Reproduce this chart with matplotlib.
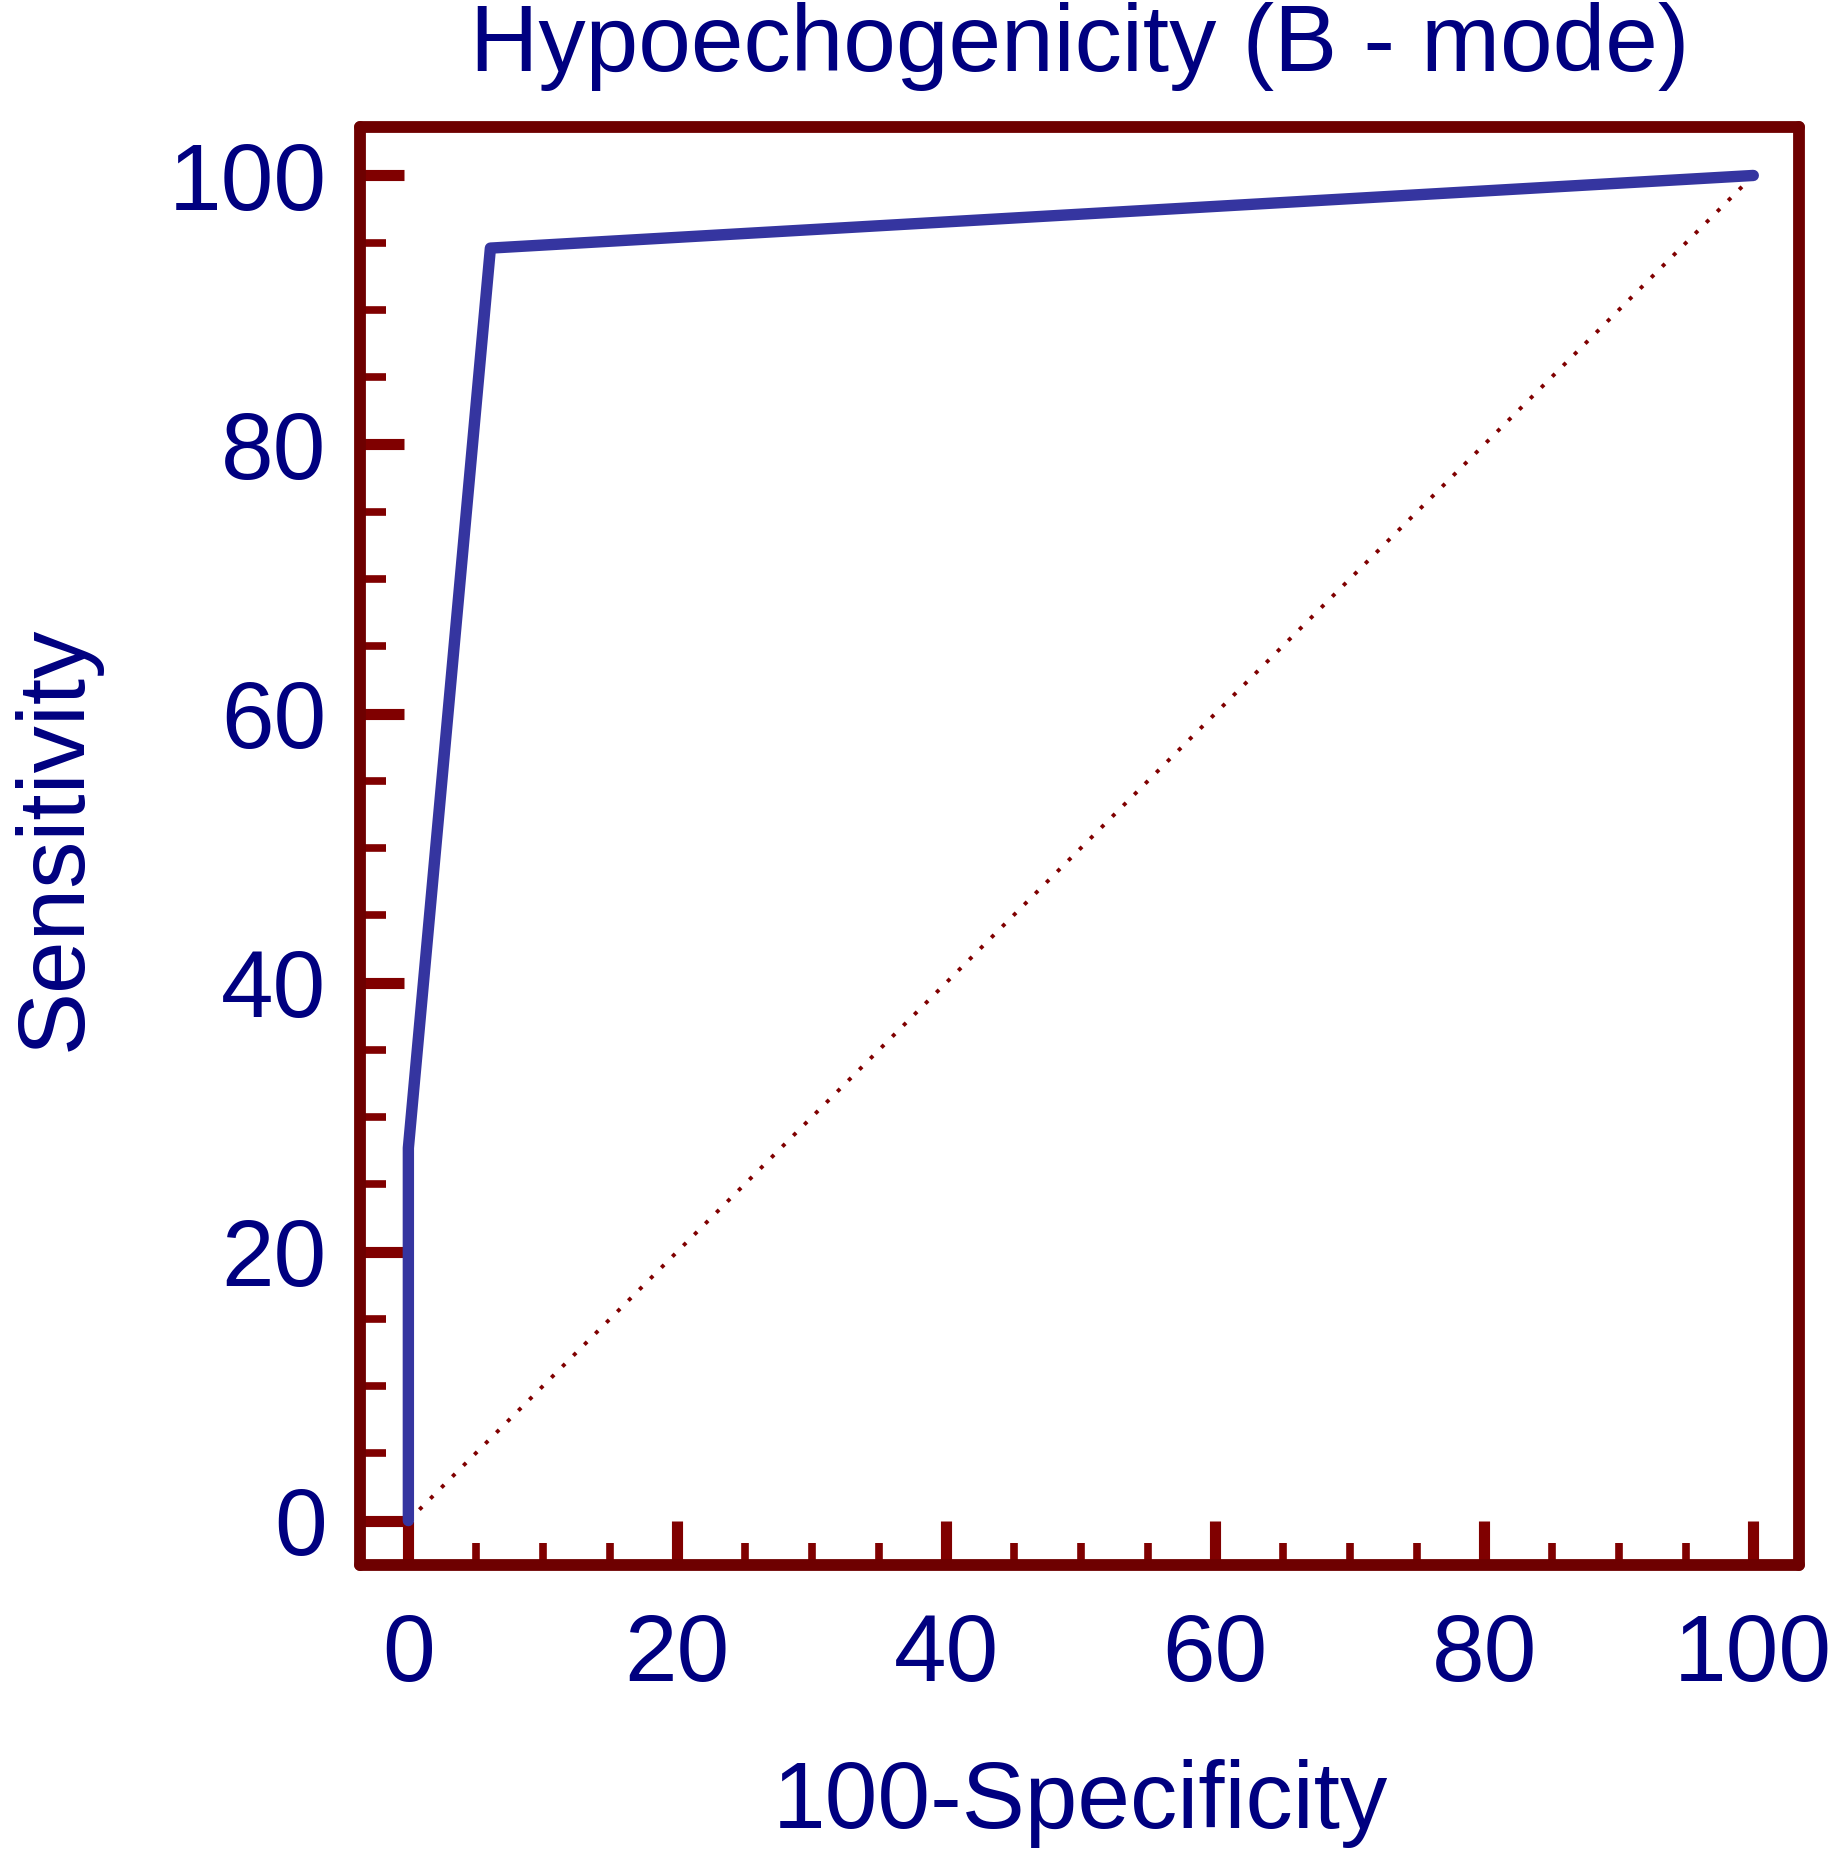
import numpy as np
import matplotlib
matplotlib.use("Agg")
from matplotlib import pyplot as plt
from matplotlib.ticker import MultipleLocator

# ROC curve points
fpr = [0, 0, 6.1, 100]
tpr = [0, 27.7, 94.6, 100]
ref_x = [0, 100]
ref_y = [0, 100]
ticks = [0, 20, 40, 60, 80, 100]

navy = '#000080'
maroon = '#6e0000'
blue = '#3535a0'

plt.rcParams['font.family'] = ['Liberation Sans', 'DejaVu Sans']

fig = plt.figure(figsize=(18.44, 18.60), dpi=100)
ax = fig.add_axes([0.1952, 0.1586, 0.7804, 0.7731])

ax.plot(ref_x, ref_y, color='#800000', lw=2.8, linestyle=(0, (1, 3)))
ax.plot(fpr, tpr, color=blue, lw=8.2, solid_capstyle='round', solid_joinstyle='round')

ax.set_xlim(-3.6, 103.4)
ax.set_ylim(-3.3, 103.6)
ax.set_xticks(ticks)
ax.set_yticks(ticks)
ax.xaxis.set_minor_locator(MultipleLocator(5))
ax.yaxis.set_minor_locator(MultipleLocator(5))

ax.tick_params(which='major', direction='in', length=32, width=8, color='#800000',
               labelsize=68, labelcolor=navy, top=False, right=False)
ax.tick_params(axis='x', which='major', pad=34)
ax.tick_params(axis='y', which='major', pad=24)
ax.tick_params(axis='x', which='minor', direction='in', length=16, width=5.5, color='#800000', top=False)
ax.tick_params(axis='y', which='minor', direction='in', length=19, width=5.5, color='#800000', right=False)

for s in ax.spines.values():
    s.set_color(maroon)
    s.set_linewidth(8.5)
    s.set_capstyle('round')

fig.text(0.5857, 1 - 71 / 1860, 'Hypoechogenicity (B - mode)', ha='center', va='baseline',
         fontsize=68, color=navy)
fig.text(0.5857, 1 - 1828 / 1860, '100-Specificity', ha='center', va='baseline',
         fontsize=68, color=navy)
fig.text(12 / 1844, 1 - 838 / 1860, 'Sensitivity', rotation=90, ha='left', va='center',
         fontsize=68, color=navy)

fig.savefig('out.png', dpi=100)
